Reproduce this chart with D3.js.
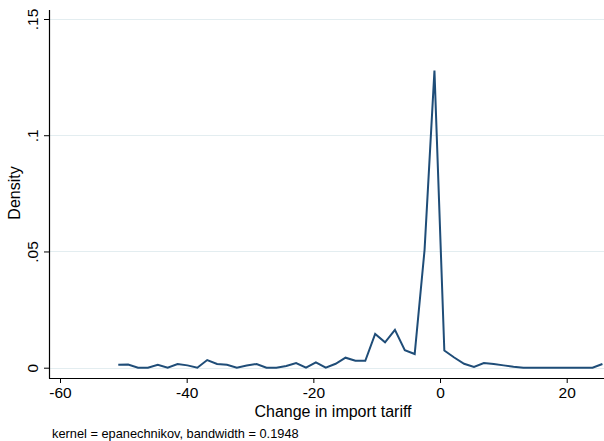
<!DOCTYPE html>
<html>
<head>
<meta charset="utf-8">
<script src="https://cdn.jsdelivr.net/npm/d3@7"></script>
<style>
  html, body { margin: 0; padding: 0; background: #fff; }
  svg { display: block; }
  text { font-family: "Liberation Sans", Arial, sans-serif; fill: #000; }
</style>
</head>
<body>
<svg id="chart" width="604" height="441"></svg>
<script>
// ---- data ----
const tariffChange = [
  -50.80, -49.24, -47.68, -46.12, -44.56, -43.00, -41.44, -39.88, -38.32, -36.76,
  -35.20, -33.64, -32.08, -30.52, -28.96, -27.40, -25.84, -24.28, -22.72, -21.16,
  -19.60, -18.04, -16.48, -14.92, -13.36, -11.80, -10.24, -8.68, -7.12, -5.56,
  -4.00, -2.44, -0.88, 0.68, 2.24, 3.80, 5.36, 6.92, 8.48, 10.04,
  11.60, 13.16, 14.72, 16.28, 17.84, 19.40, 20.96, 22.52, 24.08, 25.64
];
const density = [
  0.0013, 0.0014, 0.0000, 0.0000, 0.0013, 0.0000, 0.0016, 0.0010, 0.0000, 0.0033,
  0.0016, 0.0013, 0.0000, 0.0009, 0.0016, 0.0000, 0.0000, 0.0007, 0.0020, 0.0000,
  0.0023, 0.0000, 0.0017, 0.0043, 0.0030, 0.0030, 0.0145, 0.0109, 0.0163, 0.0075,
  0.0059, 0.0507, 0.1278, 0.0074, 0.0044, 0.0017, 0.0003, 0.0020, 0.0016, 0.0010,
  0.0004, 0.0000, 0.0000, 0.0000, 0.0000, 0.0000, 0.0000, 0.0000, 0.0000, 0.0016
];
const xTicks = [-60, -40, -20, 0, 20];
const yTicks = [0, 0.05, 0.1, 0.15];
const yTickLabels = ["0", ".05", ".1", ".15"];
const xTitle = "Change in import tariff";
const yTitle = "Density";
const noteText = "kernel = epanechnikov, bandwidth = 0.1948";

// ---- layout ----
const W = 604, H = 441;
const plotLeft = 49, plotRight = 604, plotTop = 10, plotBottom = 378;

const x = d3.scaleLinear().domain([-60, 20]).range([60, 566.7]);
const y = d3.scaleLinear().domain([0, 0.15]).range([367.7, 19]);

const svg = d3.select("#chart");
svg.append("rect").attr("width", W).attr("height", H).attr("fill", "#fff");

// gridlines
svg.append("g").selectAll("line").data(yTicks).join("line")
  .attr("x1", plotLeft + 1).attr("x2", plotRight)
  .attr("y1", d => Math.round(y(d)) + 0.5).attr("y2", d => Math.round(y(d)) + 0.5)
  .attr("stroke", "#e3edf0").attr("stroke-width", 1);

// density line
const line = d3.line().x((d, i) => x(tariffChange[i])).y(d => y(d));
svg.append("path").datum(density)
  .attr("d", line)
  .attr("fill", "none")
  .attr("stroke", "#1f4d78")
  .attr("stroke-width", 2)
  .attr("stroke-linejoin", "miter");

// y axis
const yAxis = d3.axisLeft(y).tickValues(yTicks)
  .tickFormat((d, i) => yTickLabels[i]).tickSize(5).tickPadding(4);
const gy = svg.append("g").attr("transform", `translate(${plotLeft},0)`).call(yAxis);
gy.select(".domain").remove();
gy.selectAll(".tick line").attr("stroke", "#000");
gy.selectAll(".tick text")
  .attr("font-size", 15.5).attr("font-family", "Liberation Sans, Arial, sans-serif")
  .attr("text-anchor", "middle")
  .attr("transform", "rotate(-90)")
  .attr("x", 0).attr("y", -16).attr("dy", "0.35em");
svg.append("line").attr("x1", plotLeft + 0.5).attr("x2", plotLeft + 0.5)
  .attr("y1", plotTop).attr("y2", plotBottom + 0.5)
  .attr("stroke", "#000").attr("stroke-width", 1.2);

// x axis
const xAxis = d3.axisBottom(x).tickValues(xTicks).tickSize(5).tickPadding(4)
  .tickFormat(d => d3.format("d")(d).replace("−", "-"));
const gx = svg.append("g").attr("transform", `translate(0,${plotBottom})`).call(xAxis);
gx.select(".domain").remove();
gx.selectAll(".tick line").attr("stroke", "#000");
gx.selectAll(".tick text")
  .attr("font-size", 15.5).attr("font-family", "Liberation Sans, Arial, sans-serif");
svg.append("line").attr("x1", plotLeft).attr("x2", plotRight)
  .attr("y1", plotBottom + 0.5).attr("y2", plotBottom + 0.5)
  .attr("stroke", "#000").attr("stroke-width", 1.2);

// titles
svg.append("text").attr("x", 333).attr("y", 417)
  .attr("text-anchor", "middle").attr("font-size", 16).text(xTitle);
svg.append("text").attr("transform", `translate(20,193) rotate(-90)`)
  .attr("text-anchor", "middle").attr("font-size", 16).text(yTitle);
svg.append("text").attr("x", 52).attr("y", 438)
  .attr("font-size", 12.8).text(noteText);
</script>
</body>
</html>
